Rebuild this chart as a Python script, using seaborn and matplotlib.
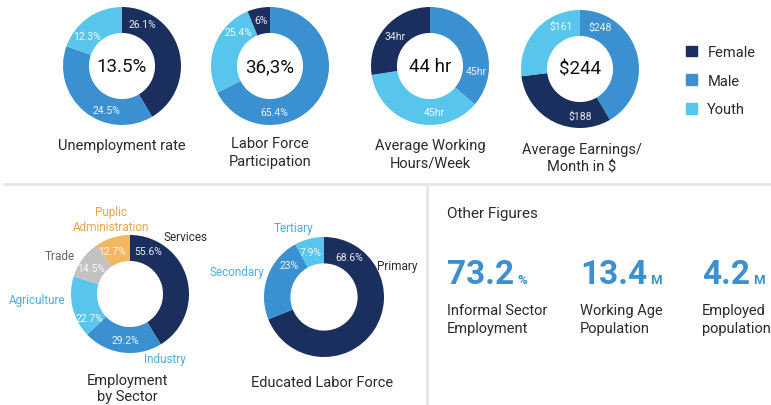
import numpy as np
import seaborn as sns
import matplotlib.pyplot as plt
from matplotlib.patches import Patch

# ---- data ----
groups = ["Female", "Male", "Youth"]
unemployment = [26.1, 24.5, 12.3]
labor_force = [6, 65.4, 25.4]
work_hours = [34, 45, 45]
earnings = [188, 248, 161]
headline = ["13.5%", "36,3%", "44 hr", "\\$244"]

sectors = ["Services", "Industry", "Agriculture", "Trade", "Puplic\nAdministration"]
sector_share = [55.6, 29.2, 22.7, 14.5, 12.7]

education = ["Primary", "Secondary", "Tertiary"]
education_share = [68.6, 23, 7.9]

other_values = ["73.2", "13.4", "4.2"]
other_units = ["%", "M", "M"]
other_labels = ["Informal Sector\nEmployment", "Working Age\nPopulation", "Employed\npopulation"]

# ---- style ----
W, H = 771, 406
sns.set_theme(style="white")
plt.rcParams["font.family"] = ["Roboto", "DejaVu Sans"]

NAVY, BLUE, LIGHT = "#1a2f5e", "#3a90d0", "#58c6ec"
GRAY, ORANGE = "#c2c2c2", "#f4b760"
TXT = "#2b2b2b"
group_colors = dict(zip(groups, [NAVY, BLUE, LIGHT]))

fig = plt.figure(figsize=(W / 100, H / 100), dpi=100)
bg = fig.add_axes([0, 0, 1, 1])
bg.set_xlim(0, W)
bg.set_ylim(H, 0)
bg.axis("off")

# separators
bg.plot([4, W], [185, 185], color="#e6e6e6", lw=2)
bg.plot([427, 427], [185, H], color="#e6e6e6", lw=2)


def donut(cx, cy, r, values, colors, texts, fracs, center=None):
    ax = fig.add_axes([(cx - r) / W, (H - cy - r) / H, 2 * r / W, 2 * r / H])
    wedges, _ = ax.pie(values, colors=colors, startangle=90, counterclock=False,
                       radius=1, wedgeprops=dict(width=0.44, linewidth=0))
    ax.set_xlim(-1, 1)
    ax.set_ylim(-1, 1)
    for w, t, f in zip(wedges, texts, fracs):
        ang = np.deg2rad(w.theta2 - f * (w.theta2 - w.theta1))
        ax.text(0.79 * np.cos(ang), 0.79 * np.sin(ang), t, color="white",
                fontsize=7.5, ha="center", va="center", alpha=0.9)
    if center:
        ax.text(0, 0, center, fontsize=13.5, color="#111111", ha="center", va="center")
    return ax


# ---- top row ----
top = [
    (122, 67, ["Female", "Male", "Youth"], unemployment, "{:g}%", [0.17, 0.36, 0.30]),
    (270, 67, ["Male", "Youth", "Female"], labor_force, "{:g}%", [0.72, 0.78, 0.5]),
    (430, 67, ["Male", "Youth", "Female"], work_hours, "{:g}hr", [0.74, 0.34, 0.5]),
    (580, 70, ["Male", "Female", "Youth"], earnings, "\\${:g}", [0.17, 0.27, 0.76]),
]
for (cx, cy, order, vals, fmt, fr), hl in zip(top, headline):
    v = [vals[groups.index(g)] for g in order]
    donut(cx, cy, 59, v, [group_colors[g] for g in order],
          [fmt.format(x) for x in v], fr, hl)

titles = [(122, 146, "Unemployment rate"), (270, 153, "Labor Force\nParticipation"),
          (430, 155, "Average Working\nHours/Week"), (582, 159, "Average Earnings/\nMonth in \\$")]
for x, y, t in titles:
    bg.text(x, y, t, fontsize=10.5, color=TXT, ha="center", va="center", linespacing=1.3)

fig.legend(handles=[Patch(color=group_colors[g]) for g in groups], labels=groups,
           loc="upper left", bbox_to_anchor=(673 / W, 1 - 33 / H), frameon=False,
           fontsize=10.5, handlelength=0.75, handleheight=0.75, handletextpad=0.7,
           labelspacing=1.0, labelcolor=TXT)

# ---- bottom left: sector ----
donut(130, 295, 59, sector_share, [NAVY, BLUE, LIGHT, GRAY, ORANGE],
      ["{:g}%".format(v) for v in sector_share], [0.15, 0.47, 0.21, 0.44, 0.33])
sector_pos = [(185, 238, TXT), (165, 360, "#4aaee3"), (37, 301, "#4aaee3"),
              (60, 256, "#666666"), (111, 220, "#f0a445")]
for name, (x, y, c) in zip(sectors, sector_pos):
    bg.text(x, y, name, fontsize=8.5, color=c, ha="center", va="center", linespacing=1.15)
bg.text(127, 389, "Employment\nby Sector", fontsize=10.5, color=TXT, ha="center",
        va="center", linespacing=1.2)

# ---- bottom middle: education ----
donut(324, 298, 60, education_share, [NAVY, BLUE, LIGHT],
      ["{:g}%".format(v) for v in education_share], [0.13, 0.77, 0.41])
edu_pos = [(397, 267, TXT), (237, 273, "#4aaee3"), (293, 229, "#4aaee3")]
for name, (x, y, c) in zip(education, edu_pos):
    bg.text(x, y, name, fontsize=8.5, color=c, ha="center", va="center")
bg.text(322, 383, "Educated Labor Force", fontsize=10.5, color=TXT, ha="center", va="center")

# ---- bottom right: other figures ----
bg.text(447, 214, "Other Figures", fontsize=11, color=TXT, ha="left", va="center")
num_x = [447, 580, 702]
renderer = fig.canvas.get_renderer()
for x, v, u, lab in zip(num_x, other_values, other_units, other_labels):
    t = bg.text(x, 284, v, fontsize=24, fontweight="bold", color=BLUE, ha="left",
                va="baseline")
    right = t.get_window_extent(renderer).x1
    ux = right + 3  # pixels; data x == pixels here
    bg.text(ux, 284, u, fontsize=9.5, fontweight="bold", color=BLUE, ha="left",
            va="baseline")
    bg.text(x, 320, lab, fontsize=10.5, color=TXT, ha="left", va="center", linespacing=1.3)

fig.savefig("out.png", dpi=100)
